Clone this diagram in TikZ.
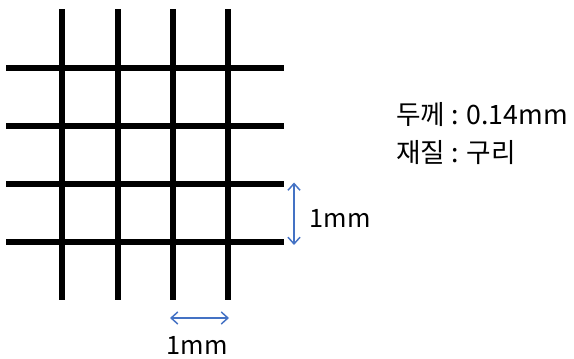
\documentclass[tikz,border=0pt]{standalone}
\usepackage{fontspec}
\setmainfont{Noto Sans CJK KR}
\usetikzlibrary{arrows.meta,positioning}
\definecolor{dimblue}{RGB}{68,114,196}

\begin{document}
\begin{tikzpicture}[
    x=0.75pt, y=-0.75pt,
    wire/.style={line width=4.5pt, black},
    dimarr/.style={{Straight Barb[length=5pt,width=9pt]}-{Straight Barb[length=5pt,width=9pt]}, dimblue, line width=1.1pt},
    dimlabel/.style={font=\fontsize{19}{22}\selectfont, inner sep=0pt},
    spec/.style={font=\fontsize{20}{24}\selectfont, anchor=west, inner sep=0pt}
]
\useasboundingbox (0,0) rectangle (574,359);

% vertical wires
\foreach \x/\n in {61.5/1,117.5/2,172.5/3,228/4}
  \draw[wire] (\x,9.5) coordinate (v\n top) -- (\x,300) coordinate (v\n bot);

% horizontal wires
\foreach \y/\n in {67.7/1,125.7/2,184/3,241.7/4}
  \draw[wire] (6,\y) coordinate (h\n left) -- (284,\y) coordinate (h\n right);

% pitch, vertical
\coordinate (pitchT) at (294,182.5);
\coordinate (pitchB) at (294,245);
\draw[dimarr] (pitchT) -- (pitchB);
\node[dimlabel] (pitchV) at (340,218) {1mm};

% pitch, horizontal
\coordinate (pitchL) at (170,318);
\coordinate (pitchR) at (229,318);
\draw[dimarr] (pitchL) -- (pitchR);
\node[dimlabel] (pitchH) at (197,345) {1mm};

% specification
\node[spec] (thick) at (396,115) {두께 : 0.14mm};
\node[spec] (mat) at (396,153) {재질 : 구리};

\end{tikzpicture}
\end{document}
